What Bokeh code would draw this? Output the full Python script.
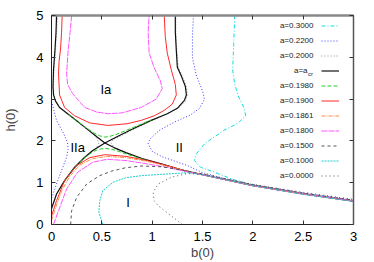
from bokeh.plotting import figure
from bokeh.models import Range1d, LinearAxis, FixedTicker, Legend, LegendItem, Label
from bokeh.core.properties import value
from bokeh.embed import file_html
from bokeh.resources import INLINE

# ---------------- data ----------------
x_ticks = [0, 0.5, 1, 1.5, 2, 2.5, 3]
x_tick_labels = ["0", "0.5", "1", "1.5", "2", "2.5", "3"]
y_ticks = [0, 1, 2, 3, 4, 5]
y_tick_labels = ["0", "1", "2", "3", "4", "5"]

legend_labels = ["a=0.3000", "a=0.2200", "a=0.2000", "a=a", "a=0.1980", "a=0.1900",
                 "a=0.1861", "a=0.1800", "a=0.1500", "a=0.1000", "a=0.0000"]
acr_sub = "cr"

# a = 0.3000 (cyan dash-dot)
a030_b = [1.82, 1.81, 1.80, 1.82, 1.86, 1.91, 1.93, 1.85, 1.71, 1.52, 1.44, 1.42, 1.48, 1.62, 1.80, 2.0, 2.5, 3.0]
a030_h = [5.0, 4.3, 3.7, 3.35, 3.05, 2.8, 2.6, 2.42, 2.25, 1.93, 1.69, 1.53, 1.37, 1.25, 1.08, 0.95, 0.74, 0.56]

# a = 0.2200 (blue dotted), left and right pieces
a022_l_b = [0.0, 0.05, 0.12, 0.16, 0.165, 0.15, 0.10, 0.05, 0.01, 0.0]
a022_l_h = [2.95, 2.49, 2.18, 1.95, 1.80, 1.61, 1.29, 0.97, 0.69, 0.62]
a022_r_b = [1.41, 1.40, 1.40, 1.44, 1.50, 1.52, 1.47, 1.38, 1.22, 1.07, 0.98, 0.96, 1.0, 1.10, 1.22, 1.35, 1.50, 1.70, 2.0, 2.5, 3.0]
a022_r_h = [5.0, 4.5, 4.0, 3.55, 3.2, 3.0, 2.78, 2.62, 2.45, 2.25, 2.05, 1.93, 1.75, 1.62, 1.52, 1.41, 1.24, 1.11, 0.95, 0.75, 0.58]

# a = 0.2000 (grey dotted), left and right pieces
a020_l_b = [0.06, 0.05, 0.04, 0.025, 0.02, 0.025, 0.045, 0.085, 0.17, 0.25, 0.33, 0.40, 0.45, 0.47, 0.45, 0.40, 0.33, 0.23, 0.13, 0.05, 0.0]
a020_l_h = [5.0, 4.6, 4.2, 3.7, 3.3, 3.1, 2.95, 2.8, 2.62, 2.47, 2.32, 2.19, 2.07, 1.95, 1.84, 1.75, 1.60, 1.36, 1.04, 0.72, 0.36]
a020_r_b = [1.235, 1.235, 1.245, 1.26, 1.30, 1.34, 1.35, 1.33, 1.26, 1.15, 0.99, 0.80, 0.68, 0.61, 0.59, 0.62, 0.70, 0.80, 0.95, 1.09, 1.30, 1.50, 2.0, 2.5, 3.0]
a020_r_h = [5.0, 4.6, 4.16, 3.76, 3.55, 3.3, 3.1, 2.95, 2.78, 2.65, 2.48, 2.26, 2.11, 2.03, 1.95, 1.85, 1.75, 1.66, 1.54, 1.45, 1.30, 1.20, 0.95, 0.75, 0.58]

# a = a_cr (black solid), four branches meeting at the saddle
acr_ul_b = [0.05, 0.045, 0.035, 0.02, 0.015, 0.02, 0.04, 0.08, 0.17, 0.25, 0.33, 0.45, 0.53]
acr_ul_h = [5.0, 4.6, 4.2, 3.7, 3.3, 3.1, 2.95, 2.8, 2.63, 2.48, 2.33, 2.10, 1.95]
acr_ur_b = [0.53, 0.65, 0.80, 0.99, 1.15, 1.25, 1.32, 1.34, 1.33, 1.29, 1.25, 1.24, 1.23, 1.23]
acr_ur_h = [1.95, 2.10, 2.28, 2.49, 2.65, 2.78, 2.97, 3.1, 3.3, 3.55, 3.76, 4.16, 4.6, 5.0]
acr_ll_b = [0.0, 0.05, 0.13, 0.23, 0.33, 0.41, 0.53]
acr_ll_h = [0.38, 0.73, 1.05, 1.37, 1.61, 1.77, 1.95]
acr_lr_b = [0.53, 0.62, 0.74, 0.90, 1.09, 1.30, 1.50, 2.0, 2.5, 3.0]
acr_lr_h = [1.95, 1.84, 1.72, 1.58, 1.45, 1.30, 1.19, 0.93, 0.73, 0.56]

# a = 0.1980 (green dashed), upper and lower pieces near the saddle
a0198_u_b = [0.17, 0.25, 0.33, 0.42, 0.48, 0.53, 0.58, 0.65, 0.75, 0.87, 0.99]
a0198_u_h = [2.63, 2.48, 2.34, 2.19, 2.12, 2.09, 2.11, 2.16, 2.26, 2.38, 2.50]
a0198_l_b = [0.13, 0.23, 0.33, 0.41, 0.47, 0.53, 0.60, 0.68, 0.80, 0.95]
a0198_l_h = [1.04, 1.36, 1.60, 1.74, 1.80, 1.82, 1.80, 1.74, 1.64, 1.53]

# a = 0.1900 (red solid), upper loop and lower curve
a019_u_b = [0.106, 0.10, 0.09, 0.075, 0.07, 0.08, 0.13, 0.23, 0.38, 0.56, 0.75, 0.89, 1.02, 1.12, 1.20, 1.24, 1.23, 1.19, 1.15, 1.13, 1.12]
a019_u_h = [5.0, 4.6, 4.2, 3.9, 3.6, 3.1, 2.8, 2.6, 2.43, 2.37, 2.41, 2.49, 2.60, 2.73, 2.88, 3.10, 3.35, 3.70, 4.10, 4.50, 5.0]
a019_l_b = [0.0, 0.05, 0.13, 0.25, 0.38, 0.53, 0.74, 0.95, 1.16, 1.35, 1.50, 2.0, 2.5, 3.0]
a019_l_h = [0.20, 0.57, 1.05, 1.41, 1.60, 1.67, 1.63, 1.53, 1.40, 1.27, 1.19, 0.93, 0.73, 0.56]

# a = 0.1861 (orange dash-dot)
a01861_b = [0.0, 0.04, 0.10, 0.18, 0.28, 0.40, 0.55, 0.74, 0.95, 1.16, 1.35, 1.50, 2.0, 2.5, 3.0]
a01861_h = [0.10, 0.40, 0.80, 1.15, 1.42, 1.57, 1.63, 1.60, 1.51, 1.39, 1.27, 1.19, 0.93, 0.73, 0.56]

# a = 0.1800 (magenta), upper loop and lower curve
a018_u_b = [0.20, 0.185, 0.165, 0.15, 0.16, 0.21, 0.33, 0.45, 0.56, 0.70, 0.89, 1.04, 1.10, 1.08, 1.02, 0.97, 0.96, 0.97]
a018_u_h = [5.0, 4.6, 4.15, 3.6, 3.35, 3.13, 2.8, 2.69, 2.65, 2.67, 2.8, 3.0, 3.25, 3.45, 3.75, 4.1, 4.6, 5.0]
a018_l_b = [0.02, 0.07, 0.15, 0.26, 0.41, 0.55, 0.74, 0.95, 1.16, 1.35, 1.50, 2.0, 2.5, 3.0]
a018_l_h = [0.0, 0.33, 0.85, 1.25, 1.49, 1.56, 1.53, 1.45, 1.36, 1.26, 1.19, 0.93, 0.73, 0.56]

# a = 0.1500 (grey dashed)
a015_b = [0.19, 0.20, 0.25, 0.35, 0.48, 0.60, 0.74, 0.90, 1.10, 1.30, 1.50, 2.0, 2.5, 3.0]
a015_h = [0.0, 0.33, 0.65, 0.97, 1.17, 1.28, 1.36, 1.40, 1.38, 1.30, 1.21, 0.95, 0.75, 0.58]

# a = 0.1000 (cyan dotted)
a010_b = [0.51, 0.47, 0.48, 0.51, 0.61, 0.74, 0.90, 1.16, 1.35, 1.50, 2.0, 2.5, 3.0]
a010_h = [0.0, 0.30, 0.57, 0.81, 1.01, 1.12, 1.17, 1.21, 1.24, 1.19, 0.93, 0.72, 0.55]

# a = 0.0000 (grey sparse dots)
a000_b = [1.30, 1.16, 1.06, 1.02, 1.01, 1.06, 1.19, 1.35, 1.50, 2.0, 2.5, 3.0]
a000_h = [0.0, 0.26, 0.45, 0.57, 0.77, 0.97, 1.13, 1.22, 1.20, 0.96, 0.77, 0.60]

# region labels
reg_text = ["Ia", "IIa", "II", "I"]
reg_b = [0.54, 0.26, 1.27, 0.76]
reg_h = [3.22, 1.85, 1.85, 0.53]

FONT = "Liberation Sans"
BL, BR, BT, BB = 50, 13, 15, 38
FW, FH = 303, 209
W, H = BL + FW + BR, BT + FH + BB   # 366 x 262

# ---------------- figure ----------------
p = figure(width=W, height=H,
           x_range=Range1d(0, 3), y_range=Range1d(0, 5),
           output_backend="svg", toolbar_location=None,
           min_border_left=BL, min_border_right=BR, min_border_top=BT, min_border_bottom=BB)
p.xgrid.visible = False
p.ygrid.visible = False
p.outline_line_color = None
p.background_fill_color = "white"
p.border_fill_color = "white"

def style_axis(ax, ticks, labels, show_labels=True):
    ax.ticker = FixedTicker(ticks=ticks)
    ax.major_tick_in = 4
    ax.major_tick_out = 0
    ax.minor_tick_line_color = None
    ax.major_tick_line_color = "#333333"
    if show_labels:
        ax.major_label_overrides = {t: s for t, s in zip(ticks, labels)}
        ax.major_label_text_font = FONT
        ax.major_label_text_font_size = "13px"
        ax.major_label_text_color = "black"
    else:
        ax.major_label_text_color = None
        ax.major_label_text_font_size = "1px"
        ax.major_label_standoff = 0

style_axis(p.xaxis[0], x_ticks, x_tick_labels)
style_axis(p.yaxis[0], y_ticks, y_tick_labels)
p.xaxis.major_label_standoff = 7
p.yaxis.major_label_standoff = 8
p.xaxis.axis_label = "b(0)"
p.yaxis.axis_label = "h(0)"
for ax in (p.xaxis[0], p.yaxis[0]):
    ax.axis_label_text_font = FONT
    ax.axis_label_text_font_size = "13px"
    ax.axis_label_text_font_style = "normal"
    ax.axis_line_color = "#222222"
p.xaxis.axis_label_standoff = 1
p.yaxis.axis_label_standoff = 15

top_ax = LinearAxis()
style_axis(top_ax, x_ticks, x_tick_labels, show_labels=False)
top_ax.axis_line_color = "#888888"
top_ax.axis_line_width = 2.5
p.add_layout(top_ax, "above")
right_ax = LinearAxis()
style_axis(right_ax, y_ticks, y_tick_labels, show_labels=False)
right_ax.axis_line_color = "#555555"
right_ax.axis_line_width = 1.5
p.add_layout(right_ax, "right")

# styles per series (gnuplot plotting order)
series = [
    ([(a030_b, a030_h)], "#11dddd", "4 2 1 2", 1.0),
    ([(a022_l_b, a022_l_h), (a022_r_b, a022_r_h)], "#3a3aff", "1 2", 1.0),
    ([(a020_l_b, a020_l_h), (a020_r_b, a020_r_h)], "#8c8c8c", "1 2", 1.0),
    ([(acr_ul_b, acr_ul_h), (acr_ur_b, acr_ur_h), (acr_ll_b, acr_ll_h), (acr_lr_b, acr_lr_h)], "#111111", "solid", 1.2),
    ([(a0198_u_b, a0198_u_h), (a0198_l_b, a0198_l_h)], "#22cc22", "4 2", 1.0),
    ([(a019_u_b, a019_u_h), (a019_l_b, a019_l_h)], "#ff2a2a", "solid", 1.0),
    ([(a01861_b, a01861_h)], "#ff8a4a", "4 1 1 1", 1.0),
    ([(a018_u_b, a018_u_h), (a018_l_b, a018_l_h)], "#ff55ff", "6 1", 1.0),
    ([(a015_b, a015_h)], "#555555", "3 3", 1.0),
    ([(a010_b, a010_h)], "#22cccc", "2 1", 1.0),
    ([(a000_b, a000_h)], "#555555", "1 3", 1.0),
]

legend_renderers = []
for pieces, color, dash, width in series:
    first = None
    for bx, hy in pieces:
        r = p.line(bx, hy, line_color=color, line_dash=dash, line_width=width)
        if first is None:
            first = r
    legend_renderers.append(first)

# region labels
p.text(x=reg_b, y=reg_h, text=reg_text, text_align="center", text_baseline="middle",
       text_font=value(FONT), text_font_size=value("13px"), text_color="black")

# legend: samples on the right, labels right-aligned to their left (gnuplot style)
ROW = 15
TOP0 = 2.5
n = len(legend_labels)
items = [LegendItem(label=value(" "), renderers=[r]) for r in legend_renderers]
leg = Legend(items=items, location=(270, FH - TOP0 - n * ROW), glyph_width=18, glyph_height=ROW,
             label_height=ROW, label_width=0, label_standoff=0, spacing=0, padding=0,
             margin=0, border_line_color=None, background_fill_alpha=0,
             label_text_font_size="8px")
p.add_layout(leg)

for i, t in enumerate(legend_labels):
    yc = FH - TOP0 - ROW / 2 - ROW * i
    xr = 256 if i == 3 else 262
    p.add_layout(Label(x=xr, y=yc, x_units="screen", y_units="screen", text=t,
                       text_align="right", text_baseline="middle",
                       text_font=FONT, text_font_size="8px", text_color="#222222"))
    if i == 3:
        p.add_layout(Label(x=256.5, y=yc - 3, x_units="screen", y_units="screen", text=acr_sub,
                           text_align="left", text_baseline="middle",
                           text_font=FONT, text_font_size="6px", text_color="#222222"))

open("out.html", "w").write(file_html(p, INLINE))
